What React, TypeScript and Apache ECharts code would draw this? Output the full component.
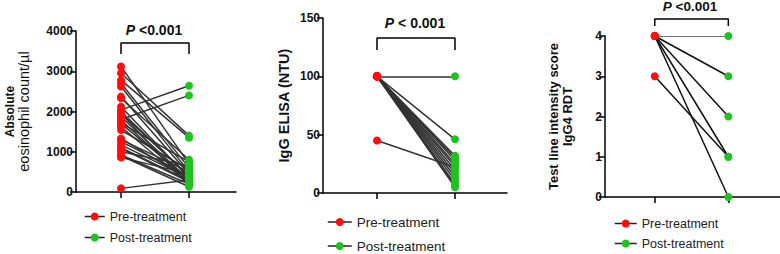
import React, { useEffect, useRef } from "react";
import * as echarts from "echarts";

// Panel 1: absolute eosinophil count (paired)
const preEos = [3120, 2950, 2780, 2700, 2620, 2370, 2330, 2120, 2040, 1950, 1870, 1800, 1790, 1710, 1620, 1540, 1330, 1250, 1170, 1085, 1000, 920, 860, 90, 1950, 1300, 1100, 2000, 1700, 900];
const postEos = [700, 1400, 1350, 600, 500, 450, 800, 350, 2640, 400, 300, 2400, 250, 750, 200, 550, 300, 400, 350, 250, 650, 200, 450, 300, 150, 500, 280, 380, 320, 130];

// Panel 2: IgG ELISA (NTU)
const preIgg = [100, 100, 100, 100, 100, 100, 100, 100, 100, 100, 100, 100, 100, 100, 45];
const postIgg = [100, 46, 32, 30, 28, 25, 23, 20, 17, 14, 11, 8, 6, 5, 22];

// Panel 3: IgG4 RDT test line intensity score
const preRdt = [4, 4, 4, 4, 4, 3];
const postRdt = [4, 3, 2, 1, 0, 1];

const eosTicks = { min: 0, max: 4000, interval: 1000 };
const iggTicks = { min: 0, max: 150, interval: 50 };
const rdtTicks = { min: 0, max: 4, interval: 1 };

const RED = "#ff0d0d";
const GREEN = "#1cc41c";
const FONT = "Liberation Sans, Arial, sans-serif";

export default function App() {
  const ref = useRef<HTMLDivElement>(null);
  useEffect(() => {
    document.body.style.margin = "0";
    const chart = echarts.init(ref.current!, null, { renderer: "svg" });

    const grids = [
      { left: 76, top: 31, width: 160, height: 161 },
      { left: 323, top: 18, width: 184, height: 175 },
      { left: 605, top: 36, width: 176, height: 161 },
    ];
    const xr = [
      { min: 0.338, max: 2.691 },
      { min: 0.308, max: 2.667 },
      { min: 0.324, max: 2.702 },
    ];
    const yCfg = [
      {
        ...eosTicks,
        name: "{a|Absolute}\n{b|eosinophil count/\u00b5l}",
        nameGap: 45,
        style: {
          fontFamily: FONT, color: "#111", align: "center",
          rich: {
            a: { fontFamily: FONT, fontWeight: "bold", fontSize: 12, color: "#111", lineHeight: 13, align: "center" },
            b: { fontFamily: FONT, fontWeight: "normal", fontSize: 14.5, color: "#111", lineHeight: 15, align: "center" },
          },
        },
      },
      {
        ...iggTicks,
        name: "IgG ELISA (NTU)",
        nameGap: 32,
        style: { fontFamily: FONT, fontWeight: "bold", fontSize: 14.5, color: "#111", align: "center" },
      },
      {
        ...rdtTicks,
        name: "Test line intensity score\nIgG4 RDT",
        nameGap: 31,
        style: { fontFamily: FONT, fontWeight: "bold", fontSize: 13, color: "#111", lineHeight: 14, align: "center" },
      },
    ];
    const axisLine = { show: true, lineStyle: { color: "#000", width: 1.5 } };

    const xAxis = grids.map((_, i) => ({
      type: "value",
      gridIndex: i,
      min: xr[i].min,
      max: xr[i].max,
      axisLine: { ...axisLine, onZero: false },
      axisTick: { show: true, customValues: [1, 2], length: 6, lineStyle: { color: "#000", width: 1.5 } },
      axisLabel: { show: false },
      splitLine: { show: false },
    }));
    const yAxis = yCfg.map((c, i) => ({
      type: "value",
      gridIndex: i,
      min: c.min,
      max: c.max,
      interval: c.interval,
      name: c.name,
      nameLocation: "middle",
      nameGap: c.nameGap,
      nameTextStyle: c.style,
      axisLine,
      axisTick: { show: true, length: 6, lineStyle: { color: "#000", width: 1.5 } },
      axisLabel: {
        fontFamily: FONT, fontWeight: "bold", fontSize: 12, color: "#111", margin: 3,
        formatter: (v: number) => String(v),
      },
      splitLine: { show: false },
    }));

    const sets = [
      { pre: preEos, post: postEos, size: 8, lineColor: "#333", bracket: [3430, 3700] },
      { pre: preIgg, post: postIgg, size: 8, lineColor: "#333", bracket: [122.6, 132.9] },
      { pre: preRdt, post: postRdt, size: 8, lineColor: "#111", bracket: [4.25, 4.42] },
    ];

    const series: any[] = [];
    sets.forEach((s, i) => {
      series.push({
        type: "lines",
        coordinateSystem: "cartesian2d",
        xAxisIndex: i,
        yAxisIndex: i,
        silent: true,
        z: 1,
        lineStyle: { color: s.lineColor, width: 1.5, opacity: 1 },
        data: s.pre.map((v, k) => {
          const same = i === 2 && v === s.post[k];
          return {
            coords: [[1, v], [2, s.post[k]]],
            lineStyle: same ? { color: "#777", width: 1 } : undefined,
          };
        }),
      });
      series.push({
        type: "line",
        name: "Pre-treatment",
        xAxisIndex: i,
        yAxisIndex: i,
        data: s.pre.map((v) => [1, v]),
        symbol: "circle",
        symbolSize: s.size,
        showSymbol: true,
        lineStyle: { opacity: 0 },
        itemStyle: { color: RED },
        silent: true,
        z: 3,
      });
      series.push({
        type: "line",
        name: "Post-treatment",
        xAxisIndex: i,
        yAxisIndex: i,
        data: s.post.map((v) => [2, v]),
        symbol: "circle",
        symbolSize: s.size,
        showSymbol: true,
        lineStyle: { opacity: 0 },
        itemStyle: { color: GREEN },
        silent: true,
        z: 3,
      });
      series.push({
        type: "line",
        xAxisIndex: i,
        yAxisIndex: i,
        clip: false,
        symbol: "none",
        silent: true,
        lineStyle: { color: "#000", width: 1.5 },
        data: [[1, s.bracket[0]], [1, s.bracket[1]], [2, s.bracket[1]], [2, s.bracket[0]]],
      });
    });

    const legendBase = {
      data: ["Pre-treatment", "Post-treatment"],
      orient: "vertical",
      padding: 0,
      selectedMode: false,
      itemHeight: 10,
      lineStyle: { opacity: 1, color: "#222", width: 1.5 },
    };
    const legend = [
      { ...legendBase, left: 84, top: 210, itemWidth: 20, itemGap: 8, textStyle: { fontFamily: FONT, fontSize: 12.5, color: "#222" } },
      { ...legendBase, left: 327, top: 215, itemWidth: 24, itemGap: 10, textStyle: { fontFamily: FONT, fontSize: 13.5, color: "#222" } },
      { ...legendBase, left: 614, top: 217, itemWidth: 22, itemGap: 7, textStyle: { fontFamily: FONT, fontSize: 12.5, color: "#222" } },
    ];

    const pText = (x: number, y: number, txt: string, size: number) => ({
      type: "text",
      x,
      y,
      style: {
        text: "{i|P}{n|" + txt + "}",
        align: "center",
        verticalAlign: "middle",
        rich: {
          i: { fontFamily: FONT, fontStyle: "italic", fontWeight: "bold", fontSize: size, fill: "#111" },
          n: { fontFamily: FONT, fontWeight: "bold", fontSize: size, fill: "#111" },
        },
      },
    });

    chart.setOption({
      animation: false,
      grid: grids,
      xAxis,
      yAxis,
      legend,
      series,
      graphic: [
        pText(154, 30, " <0.001", 14),
        pText(415, 23, " < 0.001", 14),
        pText(690, 6, " <0.001", 13.5),
      ],
    });
    return () => chart.dispose();
  }, []);
  return <div ref={ref} style={{ width: 780, height: 254 }} />;
}
